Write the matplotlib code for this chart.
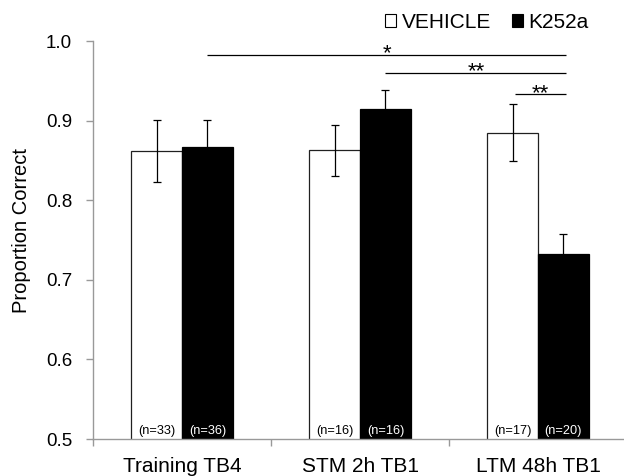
import matplotlib
matplotlib.use("Agg")
import matplotlib.pyplot as plt
import matplotlib.transforms as mtransforms
from matplotlib.patches import Patch
import numpy as np

plt.rcParams['font.family'] = ['Liberation Sans', 'DejaVu Sans']

categories = ["Training TB4", "STM 2h TB1", "LTM 48h TB1"]
vehicle = [0.862, 0.863, 0.885]
vehicle_err = [0.039, 0.032, 0.036]
k252a = [0.867, 0.914, 0.732]
k252a_err = [0.034, 0.0245, 0.025]
n_vehicle = ["(n=33)", "(n=16)", "(n=17)"]
n_k252a = ["(n=36)", "(n=16)", "(n=20)"]
# significance: (x_start, x_end, y, label)
sig_lines = [(0.143, 2.16, 0.9824, "*"), (1.143, 2.16, 0.9598, "**"), (1.87, 2.16, 0.933, "**")]

fig = plt.figure(figsize=(6.24, 4.76), dpi=100)
ax = fig.add_axes([93/624, 1 - 439/476, 534/624, 398/476])

x = np.arange(len(categories))
w = 0.286
ekw = dict(elinewidth=0.9, capthick=0.9, ecolor='black')
ax.bar(x - w/2, vehicle, w, color='white', edgecolor='#202020', linewidth=0.9,
       yerr=vehicle_err, capsize=2.6, error_kw=ekw)
ax.bar(x + w/2, k252a, w, color='black', edgecolor='black', linewidth=0.9,
       yerr=k252a_err, capsize=2.6, error_kw=ekw)

for i in range(len(categories)):
    ax.text(x[i] - w/2, 0.5025, n_vehicle[i], ha='center', va='bottom', fontsize=9.2, color='black')
    ax.text(x[i] + w/2, 0.5025, n_k252a[i], ha='center', va='bottom', fontsize=9.2, color='white')

for xs, xe, yy, lab in sig_lines:
    ax.plot([xs, xe], [yy, yy], color='black', linewidth=0.9, solid_capstyle='butt')
    tr = mtransforms.offset_copy(ax.transData, fig=fig, x=0, y=-3.2, units='points')
    ax.text((xs + xe) / 2, yy, lab, ha='center', va='baseline', fontsize=16, transform=tr)

ax.set_ylim(0.5, 1.0)
ax.set_xlim(-0.5, 2.5)
ax.set_yticks([0.5, 0.6, 0.7, 0.8, 0.9, 1.0])
ax.set_yticklabels(["0.5", "0.6", "0.7", "0.8", "0.9", "1.0"], fontsize=13.5)
ax.set_xticks(x)
ax.set_xticklabels(categories, fontsize=15)
ax.tick_params(axis='x', length=0, pad=13)
ax.set_xticks([-0.5, 0.5, 1.5, 2.5], minor=True)
ax.tick_params(axis='x', which='minor', length=5, width=1, color='#999999', direction='out')
ax.tick_params(axis='y', length=5, width=1, color='#999999', direction='out', pad=10)
for s in ['top', 'right']:
    ax.spines[s].set_visible(False)
for s in ['left', 'bottom']:
    ax.spines[s].set_color('#999999')
    ax.spines[s].set_linewidth(1.0)
ax.set_ylabel("Proportion Correct", fontsize=14.5)
ax.yaxis.set_label_coords(-0.117, 0.525)

handles = [Patch(facecolor='white', edgecolor='black', linewidth=0.8, label='VEHICLE'),
           Patch(facecolor='black', edgecolor='black', linewidth=0.8, label='K252a')]
fig.legend(handles=handles, loc='center left', bbox_to_anchor=(385/624, 1 - 22.5/476),
           ncol=2, frameon=False, fontsize=15, borderpad=0, borderaxespad=0,
           handlelength=0.55, handleheight=0.55, handletextpad=0.25, columnspacing=1.0)

fig.savefig("out.png", dpi=100)
